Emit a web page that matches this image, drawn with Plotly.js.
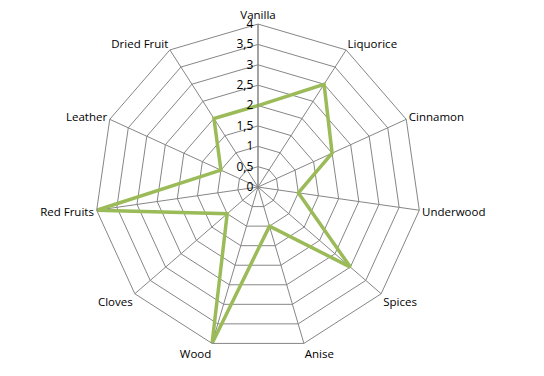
<!DOCTYPE html>
<html>
<head>
<meta charset="utf-8">
<script src="https://cdn.plot.ly/plotly-3.0.1.min.js"></script>
<style>html,body{margin:0;padding:0;background:#fff;}#chart{width:544px;height:376px;}</style>
</head>
<body>
<div id="chart"></div>
<script>
const categories = ["Vanilla","Liquorice","Cinnamon","Underwood","Spices","Anise","Wood","Cloves","Red Fruits","Leather","Dried Fruit"];
const values = [2, 3, 2, 1, 3, 1, 4, 1, 4, 1, 2];
const radialTicks = [0, 0.5, 1, 1.5, 2, 2.5, 3, 3.5, 4];

const trace = {
  type: "scatterpolar",
  r: values.concat([values[0]]),
  theta: categories.concat([categories[0]]),
  mode: "lines",
  line: {color: "#9BBB59", width: 3.5},
  hoverinfo: "skip"
};

const layout = {
  width: 544, height: 376,
  margin: {l: 0, r: 0, t: 0, b: 0},
  paper_bgcolor: "#fff",
  separators: ", ",
  showlegend: false,
  font: {family: "Open Sans, Noto Sans, sans-serif", size: 12, color: "#000"},
  polar: {
    domain: {x: [0.1746, 0.7739], y: [0.0691, 0.936]},
    gridshape: "linear",
    bgcolor: "#fff",
    angularaxis: {
      direction: "clockwise",
      rotation: 90,
      showline: true,
      linecolor: "#868686",
      linewidth: 1,
      gridcolor: "#868686",
      gridwidth: 1,
      ticks: "",
      tickfont: {size: 11.5, color: "#000"}
    },
    radialaxis: {
      range: [0, 4],
      tickvals: radialTicks,
      angle: 90,
      tickangle: 90,
      side: "counterclockwise",
      showline: true,
      linecolor: "#868686",
      gridcolor: "#868686",
      gridwidth: 1,
      ticks: "",
      tickfont: {size: 12, color: "#000"}
    }
  }
};

Plotly.newPlot("chart", [trace], layout, {staticPlot: true, displayModeBar: false});
</script>
</body>
</html>
